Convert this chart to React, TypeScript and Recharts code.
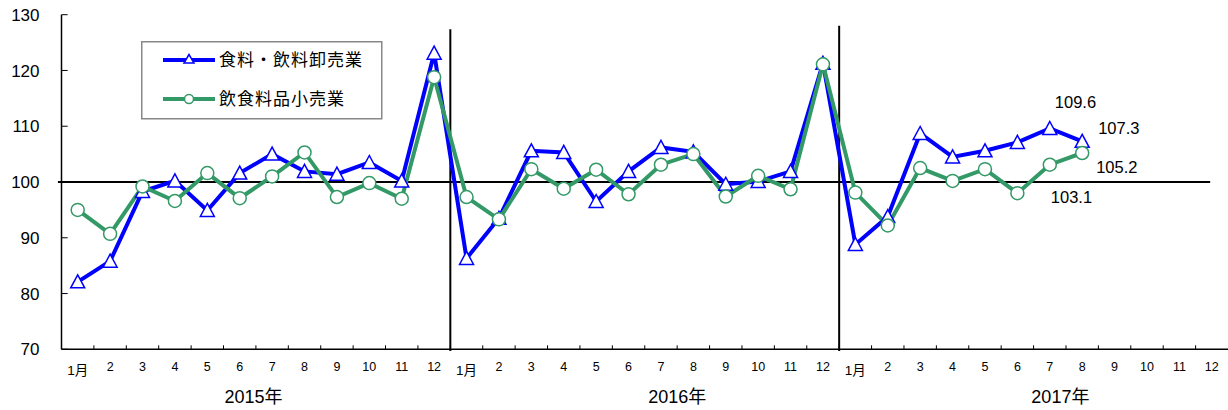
import { LineChart, Line, XAxis, YAxis, ReferenceLine, Legend, LabelList } from 'recharts';

const months = ['1月', '2', '3', '4', '5', '6', '7', '8', '9', '10', '11', '12'];
const years = ['2015年', '2016年', '2017年'];

// 食料・飲料卸売業 (2015/1 - 2017/8)
const wholesale = [
  82.1, 85.8, 98.3, 100.2, 94.9, 101.6, 105.0, 101.9, 101.4, 103.5, 100.2, 123.1,
  86.3, 93.5, 105.6, 105.3, 96.5, 101.9, 106.2, 105.4, 99.6, 100.1, 101.9, 121.3,
  88.8, 93.8, 108.7, 104.5, 105.6, 107.1, 109.6, 107.3,
];
// 飲食料品小売業
const retail = [
  95.0, 90.7, 99.2, 96.6, 101.6, 97.1, 101.0, 105.3, 97.3, 99.8, 97.0, 118.8,
  97.3, 93.3, 102.3, 98.8, 102.2, 97.8, 103.1, 105.0, 97.4, 101.1, 98.7, 121.1,
  98.1, 92.2, 102.5, 100.2, 102.3, 98.0, 103.1, 105.2,
];
const yTicks = [70, 80, 90, 100, 110, 120, 130];

const BLUE = '#0000ff';
const GREEN = '#339966';
const FONT = "'Liberation Sans', Arial, 'Noto Sans CJK JP', sans-serif";

const slots = years.length * months.length;
const data = Array.from({ length: slots }, (_, i) => ({
  x: i + 0.5,
  wholesale: wholesale[i] ?? null,
  retail: retail[i] ?? null,
}));
const xTicks = data.map((d) => d.x);
const boundaries = Array.from({ length: slots - 1 }, (_, i) => i + 1);

// label offsets (left / baseline) relative to the point
const wholesaleLabels: Record<number, [number, number]> = { 30: [5, -20], 31: [16, -7] };
const retailLabels: Record<number, [number, number]> = { 30: [1, 38], 31: [14, 20] };
const yearDx = [-18.6, 16.4, 10.6];

function MonthTick(props: any) {
  const { x, y, payload } = props;
  const i = Math.floor(payload.value);
  const m = i % 12;
  const yr = Math.floor(i / 12);
  return (
    <g fontFamily={FONT} fill="#000">
      <text
        x={x}
        y={m === 0 ? y + 25.5 : y + 21.7}
        textAnchor="middle"
        fontSize={m === 0 ? 13.5 : 12.5}
      >
        {months[m]}
      </text>
      {m === 6 && (
        <text x={x + yearDx[yr]} y={y + 54} textAnchor="middle" fontSize={18}>
          {years[yr]}
        </text>
      )}
    </g>
  );
}

function TriangleDot(props: any) {
  const { cx, cy, index, value } = props;
  if (value == null || cy == null) return <g key={index} />;
  return (
    <polygon
      key={index}
      points={`${cx},${cy - 7} ${cx - 7},${cy + 6} ${cx + 7},${cy + 6}`}
      fill="#fff"
      stroke={BLUE}
      strokeWidth={1.5}
    />
  );
}

function CircleDot(props: any) {
  const { cx, cy, index, value } = props;
  if (value == null || cy == null) return <g key={index} />;
  return <circle key={index} cx={cx} cy={cy} r={6.5} fill="#fff" stroke={GREEN} strokeWidth={1.5} />;
}

function makeLabel(offsets: Record<number, [number, number]>) {
  return (props: any) => {
    const { x, y, value, index } = props;
    const off = offsets[index];
    if (!off || value == null) return null;
    return (
      <text x={x + off[0]} y={y + off[1]} fontSize={16.5} fontFamily={FONT} fill="#000">
        {Number(value).toFixed(1)}
      </text>
    );
  };
}

function LegendBox() {
  return (
    <svg width={242} height={79} style={{ display: 'block' }}>
      <rect x={0.75} y={0.75} width={240} height={77} fill="#fff" stroke="#888" strokeWidth={1.5} />
      <line x1={22} y1={19} x2={74} y2={19} stroke={BLUE} strokeWidth={4} />
      <polygon points="48,13.5 43,22 53,22" fill="#fff" stroke={BLUE} strokeWidth={1.5} />
      <text x={78} y={25} fontSize={17} letterSpacing={1} fontFamily={FONT} fill="#000">
        食料・飲料卸売業
      </text>
      <line x1={22} y1={58} x2={74} y2={58} stroke={GREEN} strokeWidth={4} />
      <circle cx={48} cy={58} r={4.5} fill="#fff" stroke={GREEN} strokeWidth={1.5} />
      <text x={78} y={64} fontSize={17} letterSpacing={1} fontFamily={FONT} fill="#000">
        飲食料品小売業
      </text>
    </svg>
  );
}

export default function App() {
  return (
    <div style={{ position: 'absolute', left: 0, top: 0, width: 1228, height: 410, background: '#fff' }}>
      <LineChart
        width={1228}
        height={410}
        data={data}
        margin={{ top: 14.7, right: 0, bottom: 20.7, left: 5.5 }}
      >
        <XAxis
          dataKey="x"
          type="number"
          domain={[0, slots]}
          ticks={xTicks}
          interval={0}
          tick={<MonthTick />}
          tickLine={false}
          tickSize={0}
          tickMargin={0}
          height={40}
          axisLine={{ stroke: '#000', strokeWidth: 1.5 }}
        />
        <YAxis
          domain={[70, 130]}
          ticks={yTicks}
          interval={0}
          width={56}
          tickLine={false}
          tickSize={0}
          tickMargin={22}
          axisLine={{ stroke: '#000', strokeWidth: 1.5 }}
          tick={{ fontSize: 17, fill: '#000', fontFamily: FONT }}
        />
        {boundaries.map((b) => (
          <ReferenceLine
            key={`xt${b}`}
            segment={[{ x: b, y: 70 }, { x: b, y: 70.72 }]}
            stroke="#000"
            strokeWidth={1}
            ifOverflow="visible"
          />
        ))}
        {yTicks.map((t) => (
          <ReferenceLine
            key={`yt${t}`}
            segment={[{ x: 0, y: t }, { x: 0.19, y: t }]}
            stroke="#000"
            strokeWidth={1}
            ifOverflow="visible"
          />
        ))}
        <ReferenceLine
          segment={[{ x: -0.11, y: 100 }, { x: 35.45, y: 100 }]}
          stroke="#000"
          strokeWidth={2}
          ifOverflow="visible"
        />
        <ReferenceLine
          segment={[{ x: 12, y: 69.7 }, { x: 12, y: 127.4 }]}
          stroke="#000"
          strokeWidth={2}
          ifOverflow="visible"
        />
        <ReferenceLine
          segment={[{ x: 24, y: 69.7 }, { x: 24, y: 128 }]}
          stroke="#000"
          strokeWidth={2}
          ifOverflow="visible"
        />
        <Legend
          layout="vertical"
          align="center"
          verticalAlign="middle"
          wrapperStyle={{ left: 141, top: 41, width: 242, height: 79 }}
          content={() => <LegendBox />}
        />
        <Line
          dataKey="wholesale"
          name="食料・飲料卸売業"
          stroke={BLUE}
          strokeWidth={4}
          dot={TriangleDot}
          activeDot={false}
          isAnimationActive={false}
        >
          <LabelList dataKey="wholesale" content={makeLabel(wholesaleLabels)} />
        </Line>
        <Line
          dataKey="retail"
          name="飲食料品小売業"
          stroke={GREEN}
          strokeWidth={4}
          dot={CircleDot}
          activeDot={false}
          isAnimationActive={false}
        >
          <LabelList dataKey="retail" content={makeLabel(retailLabels)} />
        </Line>
      </LineChart>
    </div>
  );
}
